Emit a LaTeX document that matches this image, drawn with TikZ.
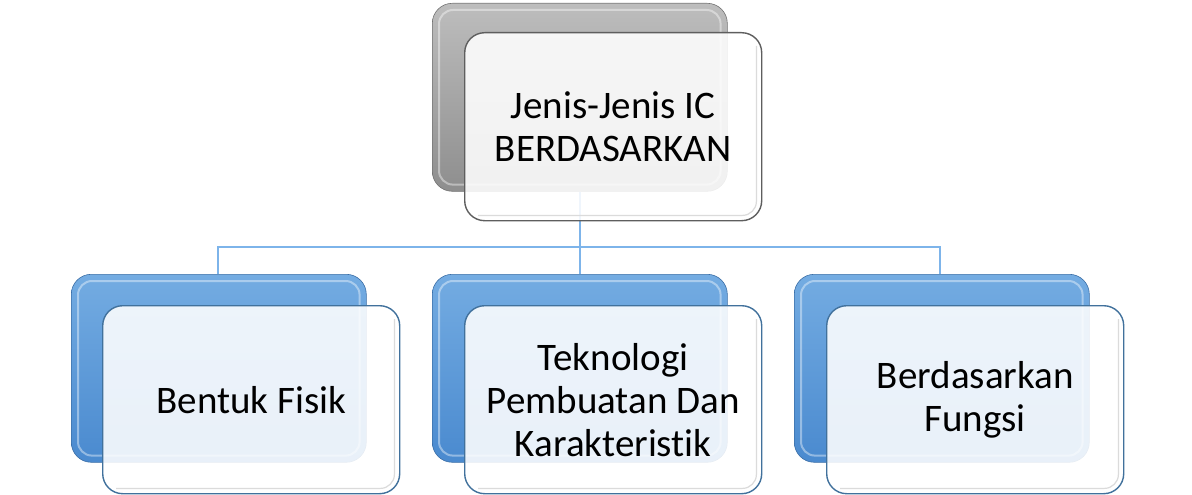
\documentclass[tikz,border=0pt]{standalone}
\usepackage{fontspec}
\setmainfont{Carlito}[Ligatures={NoCommon}]
\usetikzlibrary{positioning}
\definecolor{bluetop}{HTML}{74ACE2}
\definecolor{bluebot}{HTML}{4A8ACF}
\definecolor{graytop}{HTML}{BDBDBD}
\definecolor{graybot}{HTML}{8E8E8E}
\definecolor{blueedge}{HTML}{41719C}
\definecolor{grayedge}{HTML}{5E5E5E}
\definecolor{linkcol}{HTML}{7DB4EA}
\tikzset{
  backbox/.style={rounded corners=20pt, minimum width=295pt, minimum height=188pt, inner sep=0pt, anchor=north west},
  bluebox/.style={backbox, top color=bluetop, bottom color=bluebot, draw=bluebot!80!black, line width=0.6pt},
  graybox/.style={backbox, top color=graytop, bottom color=graybot, draw=graybot!80!black, line width=0.6pt},
  frontbox/.style={rounded corners=20pt, minimum width=297pt, minimum height=188pt, inner sep=0pt, anchor=north west,
     fill=white, fill opacity=0.88, text opacity=1, line width=1.4pt, align=center, font=\fontsize{39}{43}\selectfont},
  bluefront/.style={frontbox, draw=blueedge},
  grayfront/.style={frontbox, draw=grayedge},
  link/.style={draw=linkcol, line width=1.8pt},
}
\begin{document}
\begin{tikzpicture}[x=1pt,y=-1pt]
\useasboundingbox (0,0) rectangle (1192,495);
% back boxes
\node[graybox] (tb) at (432,3) {};
\node[bluebox] (lb) at (71,274) {};
\node[bluebox] (mb) at (432,274) {};
\node[bluebox] (rb) at (794,274) {};
% bevel highlights
\foreach \n in {tb,lb,mb,rb}{
  \draw[white, opacity=0.4, line width=2pt, rounded corners=14pt]
    ([shift={(7pt,-7pt)}]\n.north west) rectangle ([shift={(-7pt,7pt)}]\n.south east);
}
% connectors
\coordinate (hub) at (580,247);
\draw[link] (tb.south -| hub) -- (hub);
\draw[link] (lb.north -| 218,0) |- (hub);
\draw[link] (rb.north -| 940,0) |- (hub);
\draw[link] (mb.north -| hub) -- (hub);
% front boxes
\node[grayfront] (tf) at (464,32) {\fontsize{39}{55}\selectfont Jenis-Jenis IC\\BERDASARKAN};
\node[bluefront] (lf) at (102,305) {Bentuk Fisik};
\node[bluefront] (mf) at (464,305) {Teknologi\\Pembuatan Dan\\Karakteristik};
\node[bluefront] (rf) at (826,305) {Berdasarkan\\Fungsi};
% inner subtle edges (right and bottom)
\foreach \n in {tf,lf,mf,rf}{
  \draw[black!14, line width=1.2pt, rounded corners=14pt]
    ([shift={(-6pt,-14pt)}]\n.north east) -- ([shift={(-6pt,6pt)}]\n.south east) -- ([shift={(14pt,6pt)}]\n.south west);
}
\end{tikzpicture}
\end{document}
